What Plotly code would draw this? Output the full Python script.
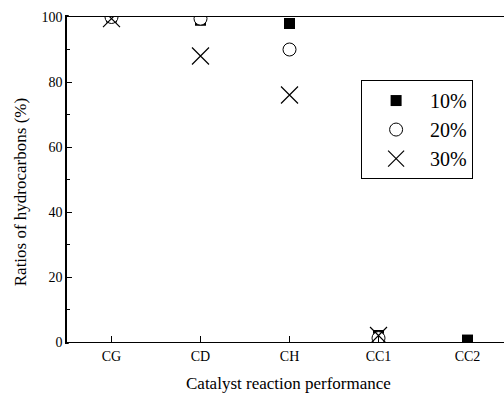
import plotly.graph_objects as go

# Catalyst samples and hydrocarbon ratios (%) at each loading
catalysts = ["CG", "CD", "CH", "CC1", "CC2"]
ratio_10 = [100, 99, 98, 2, 0.6]
ratio_20 = [100, 99.5, 90, 1.2, None]
ratio_30 = [99.5, 88, 76, 2, None]

serif = "Liberation Serif"

fig = go.Figure()
fig.add_trace(go.Scatter(
    x=catalysts, y=ratio_10, mode="markers", name="10%", legendgroup="a",
    marker=dict(symbol="square", size=11, color="black", line=dict(width=0)),
))
fig.add_trace(go.Scatter(
    x=catalysts, y=ratio_20, mode="markers", name="20%", legendgroup="b",
    marker=dict(symbol="circle", size=13, color="white",
                line=dict(width=1, color="black")),
))
fig.add_trace(go.Scatter(
    x=catalysts, y=ratio_30, mode="markers", name="30%", legendgroup="c",
    marker=dict(symbol="x-thin-open", size=17, color="black", line=dict(width=1.2)),
))

# white bands just outside the frame so markers sitting on the frame are cut off
fig.add_shape(type="rect", xref="paper", yref="paper", x0=0.004, x1=1.0,
              y0=1.003, y1=1.05, fillcolor="white", line=dict(width=0), layer="above")
fig.add_shape(type="rect", xref="paper", yref="paper", x0=0.004, x1=1.0,
              y0=-0.003, y1=-0.022, fillcolor="white", line=dict(width=0), layer="above")

# axis titles
fig.add_annotation(text="Catalyst reaction performance", xref="paper", yref="paper",
                   x=0.508, y=-0.129, xanchor="center", yanchor="middle",
                   showarrow=False, font=dict(size=17, family=serif))
fig.add_annotation(text="Ratios of hydrocarbons (%)", xref="paper", yref="paper",
                   x=-0.107, y=0.4615, xanchor="center", yanchor="middle", textangle=-90,
                   showarrow=False, font=dict(size=17, family=serif))

fig.update_layout(
    width=504, height=394,
    margin=dict(l=67, r=0, t=17, b=52),
    paper_bgcolor="white", plot_bgcolor="white",
    font=dict(family=serif, color="black", size=14),
    showlegend=True,
    legend=dict(
        x=0.673, y=0.806, xanchor="left", yanchor="top",
        bordercolor="black", borderwidth=1, bgcolor="white",
        font=dict(size=20, family=serif),
        itemwidth=58,
        tracegroupgap=0,
    ),
    xaxis=dict(
        type="category", range=[-0.5, 4.41],
        showgrid=False, zeroline=False,
        showline=True, linecolor="black", linewidth=1.5, mirror=True,
        ticks="inside", ticklen=6, tickwidth=1, tickcolor="black",
        minor=dict(ticks="inside", ticklen=3, tickcolor="black", dtick=0.5, showgrid=False),
        tickfont=dict(size=14),
    ),
    yaxis=dict(
        range=[0, 100], tickvals=[0, 20, 40, 60, 80, 100],
        showgrid=False, zeroline=False,
        showline=True, linecolor="black", linewidth=1.5,
        ticks="inside", ticklen=5, tickwidth=1, tickcolor="black",
        minor=dict(ticks="inside", ticklen=3, tickcolor="black", dtick=10, showgrid=False),
        tickfont=dict(size=14),
    ),
)

fig.write_html("out.html")
